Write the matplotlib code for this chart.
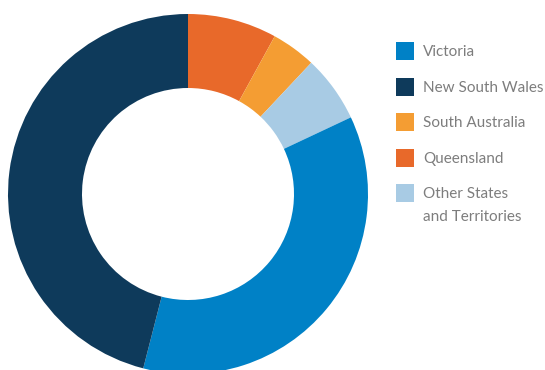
import matplotlib
matplotlib.use('Agg')
import matplotlib.pyplot as plt
from matplotlib.patches import Rectangle

# Share of total by state, drawn clockwise from 12 o'clock
states = ['Queensland', 'South Australia', 'Other States\nand Territories', 'Victoria', 'New South Wales']
shares = [8, 4, 6, 36, 46]
colors = ['#E8692A', '#F49D33', '#A8CBE4', '#0081C6', '#0E3A5B']

# Legend order
legend_labels = ['Victoria', 'New South Wales', 'South Australia', 'Queensland', 'Other States\nand Territories']

fig = plt.figure(figsize=(5.45, 3.70), dpi=100)
ax = fig.add_axes([0, 0, 1, 1])
ax.set_xlim(0, 545)
ax.set_ylim(0, 370)
ax.set_aspect('equal')
ax.axis('off')

ax.pie(shares, colors=colors, startangle=90, counterclock=False,
       center=(188, 176), radius=180,
       wedgeprops=dict(width=74, linewidth=0))
ax.set_xlim(0, 545)
ax.set_ylim(0, 370)

# Legend: colour squares with labels on the right
color_of = dict(zip(states, colors))
y = 319
for lab in legend_labels:
    ax.add_patch(Rectangle((396, y - 9), 18, 18, facecolor=color_of[lab], edgecolor='none'))
    for i, line in enumerate(lab.split('\n')):
        ax.text(423, y - 1 - i * 23, line, va='center', ha='left',
                fontsize=11, color='#7d7d7d', family='Lato')
    y -= 35.5

fig.savefig('out.png', dpi=100)
